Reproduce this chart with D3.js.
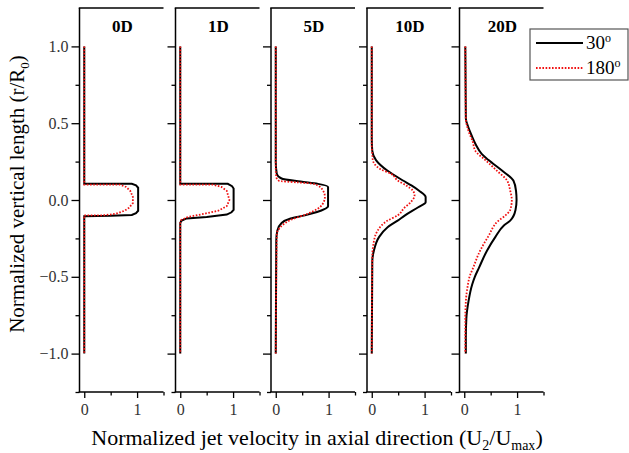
<!DOCTYPE html>
<meta charset="utf-8">
<style>
body { margin: 0; background: #fff; }
svg { display: block; font-family: "Liberation Serif", "Times New Roman", serif; }
.frame line { stroke: #000; stroke-width: 1.5px; }
.tick line { stroke: #000; stroke-width: 1.3px; }
.tick text { font-family: "Liberation Serif", "Times New Roman", serif; font-size: 16px; fill: #333; }
.s30 { fill: none; stroke: #000; stroke-width: 2px; }
.s180 { fill: none; stroke: #f01010; stroke-width: 1.8px; stroke-dasharray: 1.6,1.6; }
</style>
<svg width="629" height="453"></svg>
<script src="https://d3js.org/d3.v7.min.js"></script>
<script>

// panels (distance downstream) and the two series
var panels = ["0D", "1D", "5D", "10D", "20D"];
var seriesNames = ["30", "180"];

// profiles as [r/R0, U2/Umax] pairs
var p0_30 = [[1.0,0],[0.105,0],[0.105,0.9],[0.095,0.98],[0.08,1.02],[-0.07,1.02],[-0.085,0.98],[-0.097,0.9],[-0.103,0.5],[-0.105,0],[-1.0,0]];
var p0_180 = [[1.0,0],[0.1,0],[0.1,0.68],[0.085,0.79],[0.06,0.87],[0.02,0.92],[-0.02,0.92],[-0.05,0.85],[-0.07,0.76],[-0.09,0.6],[-0.1,0.35],[-0.1,0],[-1.0,0]];

var p1_30 = [[1.0,0],[0.105,0],[0.105,0.9],[0.09,0.98],[0.075,1.01],[-0.065,1.01],[-0.08,0.97],[-0.095,0.88],[-0.11,0.5],[-0.12,0.12],[-0.135,0.02],[-0.15,0],[-1.0,0]];
var p1_180 = [[1.0,0],[0.1,0],[0.1,0.62],[0.085,0.78],[0.06,0.88],[0.0,0.93],[-0.04,0.88],[-0.07,0.72],[-0.09,0.45],[-0.11,0.15],[-0.13,0.02],[-0.15,0],[-1.0,0]];

var p5_30 = [[1.0,0],[0.25,0],[0.17,0.02],[0.14,0.11],[0.12,0.47],[0.105,0.8],[0.085,0.99],[-0.04,0.99],[-0.06,0.92],[-0.1,0.55],[-0.12,0.28],[-0.15,0.11],[-0.2,0.03],[-0.26,0.01],[-1.0,0]];
var p5_180 = [[1.0,0],[0.2,0],[0.15,0.01],[0.125,0.06],[0.115,0.4],[0.105,0.72],[0.07,0.88],[0.02,0.93],[-0.03,0.88],[-0.06,0.78],[-0.09,0.6],[-0.13,0.28],[-0.18,0.08],[-0.22,0.02],[-1.0,0]];

var p10_30 = [[1.0,0],[0.4,0],[0.32,0.01],[0.26,0.08],[0.19,0.3],[0.127,0.59],[0.095,0.75],[0.062,0.89],[0.02,1.02],[-0.015,1.02],[-0.047,0.88],[-0.1,0.63],[-0.134,0.49],[-0.177,0.3],[-0.24,0.14],[-0.33,0.04],[-0.4,0.01],[-1.0,0]];
var p10_180 = [[1.0,0],[0.35,0],[0.3,0.01],[0.26,0.02],[0.2,0.17],[0.17,0.37],[0.127,0.49],[0.095,0.65],[0.06,0.78],[0.03,0.81],[-0.02,0.72],[-0.05,0.62],[-0.1,0.49],[-0.134,0.3],[-0.2,0.11],[-0.29,0.03],[-0.37,0.01],[-1.0,0]];

var p20_30 = [[1.0,0.02],[0.53,0.03],[0.48,0.07],[0.42,0.14],[0.36,0.22],[0.3,0.33],[0.26,0.46],[0.19,0.72],[0.127,0.93],[0.06,0.98],[0.0,0.99],[-0.065,0.97],[-0.134,0.87],[-0.166,0.75],[-0.24,0.59],[-0.33,0.43],[-0.44,0.28],[-0.5,0.2],[-0.55,0.15],[-0.66,0.08],[-0.77,0.04],[-0.9,0.03],[-1.0,0.03]];
var p20_180 = [[1.0,0.02],[0.53,0.03],[0.45,0.08],[0.38,0.16],[0.32,0.21],[0.26,0.4],[0.19,0.62],[0.127,0.81],[0.06,0.87],[0.0,0.9],[-0.065,0.87],[-0.1,0.78],[-0.134,0.65],[-0.24,0.45],[-0.33,0.3],[-0.44,0.17],[-0.5,0.1],[-0.55,0.07],[-0.66,0.03],[-0.77,0.02],[-1.0,0.02]];

var profiles = [[p0_30, p0_180], [p1_30, p1_180], [p5_30, p5_180], [p10_30, p10_180], [p20_30, p20_180]];

var yTicks = [-1.0, -0.5, 0.0, 0.5, 1.0];
var yMinor = [-1.25, -0.75, -0.25, 0.25, 0.75];
var xTicks = [0, 1];
var xMinor = [0.5, 1.5];

var svg = d3.select("svg");

var panelLeft = [79.5, 175.5, 271, 367, 459.5],
    panelW = 84,
    plotTop = 8,
    plotBottom = 392;

var y = d3.scaleLinear().domain([-1.25, 1.25]).range([plotBottom, plotTop]);

panels.forEach(function(name, i) {
  var x = d3.scaleLinear().domain([-0.09, 1.5]).range([panelLeft[i], panelLeft[i] + panelW]);
  var g = svg.append("g");

  // left axis with major + minor ticks
  var yAxis = d3.axisLeft(y).tickValues(yTicks).tickSize(8).tickPadding(3)
      .tickFormat(i === 0 ? d3.format(".1f") : "");
  g.append("g").attr("transform", "translate(" + panelLeft[i] + ",0)").call(yAxis)
    .call(function(a) { a.select(".domain").remove(); });
  g.append("g").attr("transform", "translate(" + panelLeft[i] + ",0)")
    .call(d3.axisLeft(y).tickValues(yMinor).tickSize(4).tickFormat(""))
    .call(function(a) { a.select(".domain").remove(); });

  // bottom axis
  g.append("g").attr("transform", "translate(0," + plotBottom + ")")
    .call(d3.axisBottom(x).tickValues(xTicks).tickSize(6).tickPadding(6).tickFormat(d3.format("d")))
    .call(function(a) { a.select(".domain").remove(); });
  g.append("g").attr("transform", "translate(0," + plotBottom + ")")
    .call(d3.axisBottom(x).tickValues(xMinor).tickSize(3.5).tickFormat(""))
    .call(function(a) { a.select(".domain").remove(); });

  var frame = g.append("g").attr("class", "frame");
  frame.append("line").attr("x1", panelLeft[i]).attr("x2", panelLeft[i]).attr("y1", plotTop).attr("y2", plotBottom);
  frame.append("line").attr("x1", panelLeft[i] - 0.75).attr("x2", panelLeft[i] + panelW).attr("y1", plotTop).attr("y2", plotTop);
  frame.append("line").attr("x1", panelLeft[i] - 0.75).attr("x2", panelLeft[i] + panelW).attr("y1", plotBottom).attr("y2", plotBottom);

  // near-wake profiles are step-like, far-wake ones smooth
  var line = d3.line()
      .x(function(d) { return x(d[1]); })
      .y(function(d) { return y(d[0]); })
      .curve(i < 2 ? d3.curveLinear : d3.curveMonotoneY);

  g.append("path").attr("class", "s30").attr("d", line(profiles[i][0]));
  g.append("path").attr("class", "s180").attr("d", line(profiles[i][1]));

  g.append("text")
    .attr("x", panelLeft[i] + panelW / 2 + 1)
    .attr("y", 32)
    .attr("text-anchor", "middle")
    .style("font-size", "17px")
    .style("font-weight", "bold")
    .text(name);
});

// legend
var lg = svg.append("g").attr("transform", "translate(530,29)");
lg.append("rect").attr("width", 98).attr("height", 51)
  .attr("fill", "#fff").attr("stroke", "#555").attr("stroke-width", 1.2);
seriesNames.forEach(function(s, k) {
  var ly = 14 + k * 25;
  lg.append("line").attr("class", k === 0 ? "s30" : "s180")
    .attr("x1", 6).attr("x2", 53).attr("y1", ly).attr("y2", ly);
  var t = lg.append("text").attr("x", 56).attr("y", ly + 6).style("font-size", "19px").text(s);
  t.append("tspan").attr("dy", -7).style("font-size", "12px").text("o");
});

// axis titles
var xt = svg.append("text").attr("x", 317).attr("y", 445).attr("text-anchor", "middle")
  .style("font-size", "22px").text("Normalized jet velocity in axial direction (U");
xt.append("tspan").attr("dy", 5).style("font-size", "14px").text("2");
xt.append("tspan").attr("dy", -5).text("/U");
xt.append("tspan").attr("dy", 5).style("font-size", "14px").text("max");
xt.append("tspan").attr("dy", -5).text(")");

var yt = svg.append("text").attr("transform", "translate(24,194) rotate(-90)").attr("text-anchor", "middle")
  .style("font-size", "21px").text("Normalized vertical length (r/R");
yt.append("tspan").attr("dy", 5).style("font-size", "13px").text("0");
yt.append("tspan").attr("dy", -5).text(")");

</script>
